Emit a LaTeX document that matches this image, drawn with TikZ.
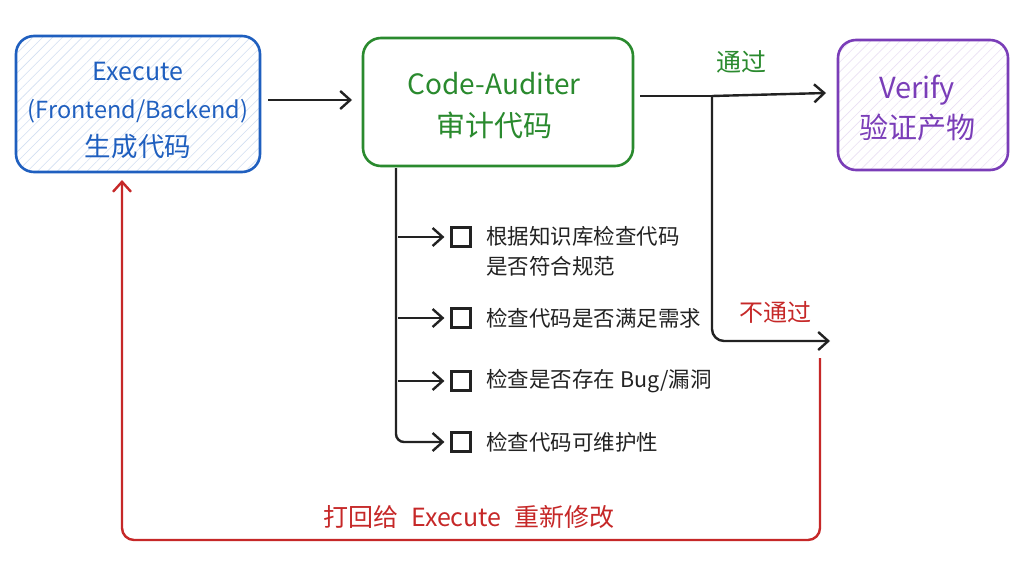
\documentclass[tikz,border=0pt]{standalone}
\usepackage{fontspec}
\setmainfont{Noto Sans CJK SC}
\usetikzlibrary{arrows.meta,patterns.meta}
\definecolor{cblue}{HTML}{1F5FBF}
\definecolor{cgreen}{HTML}{2A8A2E}
\definecolor{cpurple}{HTML}{7A3DB8}
\definecolor{cred}{HTML}{C62828}
\definecolor{cink}{HTML}{222222}
\begin{document}
\begin{tikzpicture}[x=1pt,y=-1pt,
  box/.style={rounded corners=18pt, line width=2.6pt, inner sep=0pt},
  tip/.style={-{Straight Barb[length=10pt,width=18pt,line width=2.4pt]}},
  conn/.style={line width=2.4pt, draw=cink, tip},
  plain/.style={line width=2.4pt, draw=cink},
  cbox/.style={draw=cink, line width=2.2pt, minimum size=19pt, inner sep=0pt},
  item/.style={font=\fontsize{21.5}{30}\selectfont, text=cink, anchor=west, align=left, inner sep=0pt},
  lbl/.style={font=\fontsize{25}{28}\selectfont, inner sep=0pt},
  btext/.style={align=center, inner sep=0pt}
]
\useasboundingbox (0,0) rectangle (1024,575);
\fill[white] (0,0) rectangle (1024,575);

% boxes
\node[box, draw=cblue, minimum width=244pt, minimum height=136pt,
  pattern={Lines[angle=45,distance=7pt,line width=0.6pt]}, pattern color=cblue!20]
  (exec) at (138,104) {};
\node[btext, text=cblue, font=\fontsize{25}{38}\selectfont] (exect) at (138,110)
  {Execute\\{\fontsize{23.5}{38}\selectfont (Frontend/Backend)}\\{\fontsize{26.5}{30}\selectfont 生成代码}};
\node[box, draw=cgreen, minimum width=270pt, minimum height=128pt]
  (aud) at (498,102) {};
\node[btext, text=cgreen, font=\fontsize{28}{42}\selectfont] (audt) at (494,106)
  {Code-Auditer\\{\fontsize{29}{32}\selectfont 审计代码}};
\node[box, draw=cpurple, minimum width=170pt, minimum height=130pt,
  pattern={Lines[angle=45,distance=7pt,line width=0.6pt]}, pattern color=cpurple!16]
  (ver) at (923,105) {};
\node[btext, text=cpurple, font=\fontsize{29}{40}\selectfont] (vert) at (917,108)
  {Verify\\验证产物};

% main flow
\coordinate (a1) at (352,100);
\draw[conn] (exec.east |- a1) ++(8,0) coordinate (e1) -- (a1);

\coordinate (split) at (712,96);
\coordinate (passend) at (826,93);
\coordinate (failend) at (830,341);
\draw[plain] (aud.east |- split) ++(6,0) coordinate (aout) -- (split);
\draw[conn] (split) -- (passend);
\draw[conn, rounded corners=12pt] (split) |- (failend);
\node[lbl, text=cgreen] (pass) at (741,62) {通过};
\node[lbl, text=cred, font=\fontsize{24}{28}\selectfont] (fail) at (775,312) {不通过};

% checklist
\node[cbox] (c1) at (461,237) {};
\node[cbox] (c2) at (461,318) {};
\node[cbox] (c3) at (461,381) {};
\node[cbox] (c4) at (461,442) {};
\node[item] (t1) at (486,251) {根据知识库检查代码\\是否符合规范};
\node[item] (t2) at (486,318) {检查代码是否满足需求};
\node[item] (t3) at (486,381) {检查是否存在 Bug/漏洞};
\node[item] (t4) at (486,442) {检查代码可维护性};

\coordinate (trunktop) at (396,168);
\draw[conn, rounded corners=8pt] (trunktop) |- ([xshift=-6pt]c4.west);
\draw[conn] (398,237) coordinate (b1) -- ([xshift=-6pt]c1.west);
\draw[conn] (398,318) coordinate (b2) -- ([xshift=-6pt]c2.west);
\draw[conn] (398,381) coordinate (b3) -- ([xshift=-6pt]c3.west);

% red loop back
\coordinate (rstart) at (820,358);
\coordinate (rcorner) at (820,540);
\coordinate (lcorner) at (122,540);
\coordinate (rend) at (122,180);
\draw[line width=2.4pt, draw=cred, rounded corners=12pt, tip]
  (rstart) -- (rcorner) -- (lcorner) -- (rend);
\node[lbl, text=cred, font=\fontsize{25}{28}\selectfont] (back) at (469,517)
  {打回给\hspace{0.5em}Execute\hspace{0.5em}重新修改};
\end{tikzpicture}
\end{document}
